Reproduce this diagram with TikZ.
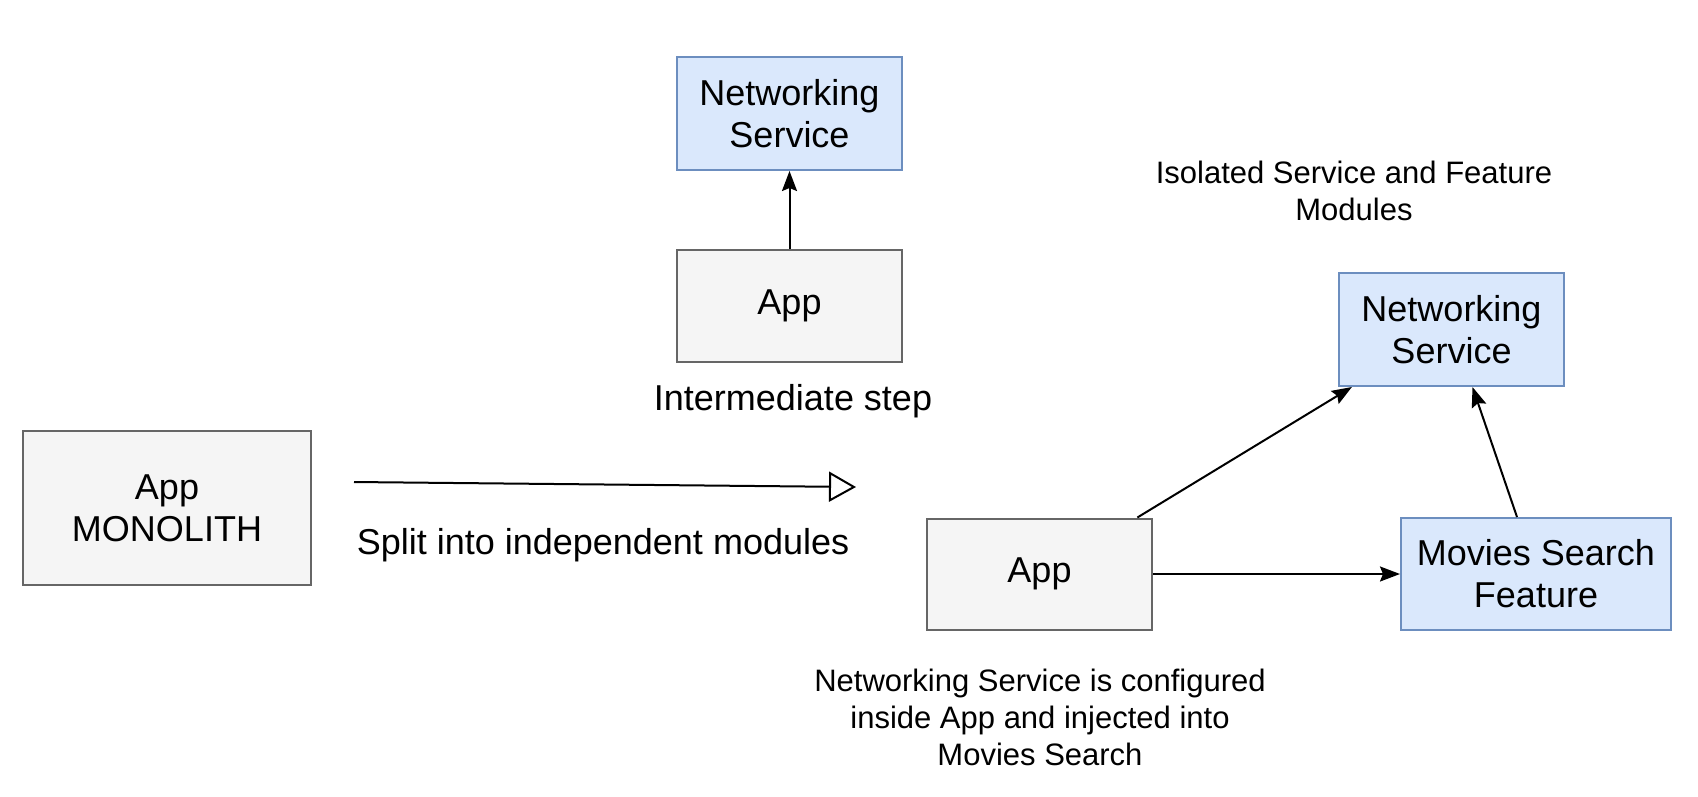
\documentclass[tikz,border=0pt]{standalone}
\usepackage{fontspec}
\setmainfont{Liberation Sans}
\usetikzlibrary{arrows.meta,calc}
\definecolor{grayfill}{HTML}{F5F5F5}
\definecolor{graydraw}{HTML}{666666}
\definecolor{bluefill}{HTML}{DAE8FC}
\definecolor{bluedraw}{HTML}{6C8EBF}
\begin{document}
\begin{tikzpicture}[x=1pt, y=-1pt,
  every node/.style={font=\fontsize{36}{42}\selectfont, align=center},
  appbox/.style={draw=graydraw, fill=grayfill, line width=2pt, minimum width=225pt, minimum height=112pt},
  servicebox/.style={draw=bluedraw, fill=bluefill, line width=2pt, minimum width=225pt, minimum height=113pt},
  note/.style={font=\fontsize{31}{37}\selectfont},
  link/.style={-{Stealth[length=20pt, width=15pt, inset=3pt]}, line width=2pt}]
  \useasboundingbox (0,0) rectangle (1698,796);

  % monolith
  \node[appbox, minimum width=288pt, minimum height=154pt] (monolith) at (167,508) {App\\MONOLITH};

  % split arrow
  \coordinate (splitstart) at (354,482);
  \coordinate (splitend) at (856,487);
  \draw[-{Triangle[open, length=27pt, width=30pt]}, line width=2pt] (splitstart) -- (splitend);
  \node (splitlabel) at (603,545) {Split into independent modules};

  % intermediate step
  \node[servicebox] (netone) at (789.5,113.5) {Networking\\Service};
  \node[appbox] (appone) at (789.5,306) {App};
  \draw[link] (appone.north) -- (netone.south);
  \node (steplabel) at (793,401) {Intermediate step};

  % isolated modules
  \node[note] (isolatedlabel) at (1354,191) {Isolated Service and Feature\\Modules};
  \node[servicebox] (nettwo) at (1451.5,329.5) {Networking\\Service};
  \node[appbox, minimum height=111pt] (apptwo) at (1039.5,574) {App};
  \node[servicebox, minimum width=270pt, minimum height=112pt] (movies) at (1536,574) {Movies Search\\Feature};
  \draw[link] (apptwo.30) -- (nettwo.210);
  \draw[link] ($(movies.north)+(-19,0)$) -- ($(nettwo.south)+(21,0)$);
  \draw[link] (apptwo.east) -- (movies.west);
  \node[note] (injectlabel) at (1040,717) {Networking Service is configured\\inside App and injected into\\Movies Search};
\end{tikzpicture}
\end{document}
